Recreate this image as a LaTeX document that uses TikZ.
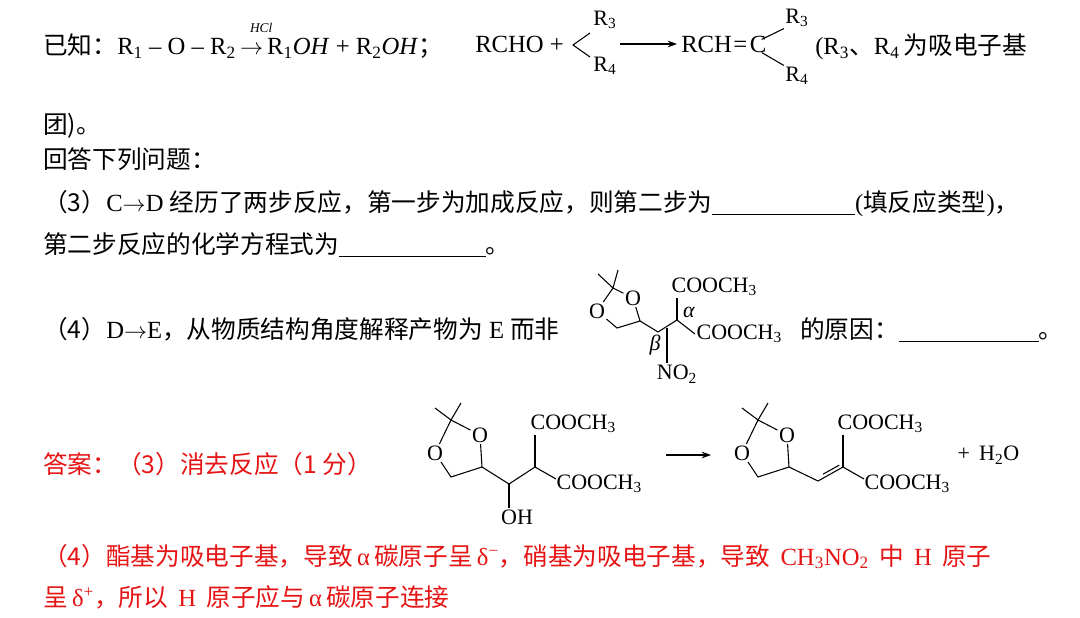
\documentclass[tikz,border=0pt]{standalone}
\usepackage{fontspec}
\usetikzlibrary{arrows.meta,calc}
\setmainfont{Liberation Serif}
\newfontfamily\cjk{Noto Sans CJK SC}
\newcommand{\C}[1]{{\cjk #1}}
\newcommand{\s}[1]{\textsubscript{#1}}
\newcommand{\blank}[1]{\rule[-3pt]{#1}{0.6pt}}
\newcommand{\ra}{\ensuremath{\rightarrow}}
\definecolor{ansred}{RGB}{230,20,20}
\begin{document}
\begin{tikzpicture}[x=0.75pt,y=-0.75pt,
  txt/.style={anchor=base west,inner sep=0pt,font=\fontsize{18.5}{22}\selectfont},
  chem/.style={inner sep=1pt,font=\fontsize{16.5}{19}\selectfont},
  bond/.style={line width=0.8pt},
  ar/.style={-{Stealth[length=7pt,width=5pt]},line width=0.8pt}]
\useasboundingbox[fill=white] (0,0) rectangle (1080,617);
% line 1
\node[txt] (l1a) at (43,55) {\C{已知：}R\s{1} – O – R\s{2}\,\rlap{\raisebox{17pt}{\fontsize{10}{10}\selectfont\itshape\ \ \ HCl}}\ra\,R\s{1}\textit{OH} + R\s{2}\textit{OH}\C{；}};
\node[txt] (l1b) at (475,53) {RCHO +};
\coordinate (bt) at (590,33); \coordinate (bm) at (573,45); \coordinate (bb) at (590,57);
\draw[bond] (bt) -- (bm) -- (bb);
\node[chem] (r3a) at (605,20) {R\s{3}};
\node[chem] (r4a) at (605,66) {R\s{4}};
\coordinate (a1s) at (620,44); \coordinate (a1e) at (677,44);
\draw[ar] (a1s) -- (a1e);
\node[txt] (l1c) at (681,53) {RCH\kern1pt=\kern2ptC};
\coordinate (cu) at ($(l1c.north east)+(-5,3)$); \coordinate (cd) at ($(l1c.south east)+(-5,-1)$);
\node[chem] (r3b) at (797,18) {R\s{3}};
\node[chem] (r4b) at (797,76) {R\s{4}};
\draw[bond] (cu) -- (r3b.south west);
\draw[bond] (cd) -- (r4b.north west);
\node[txt] (l1d) at (815,55) {(R\s{3}\C{、}R\s{4}\,\C{为吸电子基}};
\node[txt] (l2) at (43,133) {\C{团)。}};
\node[txt] (l3) at (43,168) {\C{回答下列问题：}};
\node[txt] (l4) at (43,211) {\C{（3）}C\ra D \C{经历了两步反应，第一步为加成反应，则第二步为}\blank{107pt}(\C{填反应类型})\C{，}};
\node[txt] (l5) at (43,253) {\C{第二步反应的化学方程式为}\blank{110pt}\C{。}};
\node[txt] (l6) at (43,338) {\C{（4）}D\ra E\C{，从物质结构角度解释产物为} E \C{而非}};
\node[txt] (l6b) at (800,338) {\C{的原因：}\blank{105pt}\C{。}};
% structure in question
\coordinate (qm1) at (598,274); \coordinate (qm2) at (618,270); \coordinate (qc2) at (613,288);
\node[chem] (qor) at (633,298) {O};
\node[chem] (qol) at (597,311) {O};
\coordinate (qc4) at (640,321); \coordinate (qch2) at (617,328);
\coordinate (qb) at (658,332); \coordinate (qa) at (677,320);
\draw[bond] (qm1) -- (qc2) -- (qm2);
\draw[bond] (qc2) -- (qor) -- (qc4) -- (qch2) -- (qol) -- (qc2);
\draw[bond] (qc4) -- (qb) -- (qa);
\node[chem,anchor=west] (qe1) at (670,287) {COOCH\s{3}};
\node[chem,anchor=west] (qe2) at (695,334) {COOCH\s{3}};
\draw[bond] (qa) -- (qa|-qe1.south);
\draw[bond] (qa) -- (qe2.west);
\coordinate (qn) at (667,328);
\node[chem] (qno) at (677,374) {NO\s{2}};
\draw[bond] (qn) -- (qn|-qno.north);
\node[chem] (alp) at (689,312) {\textit{α}};
\node[chem] (bet) at (655,345) {\textit{β}};
% answer
\node[txt,text=ansred] (ans) at (43,473) {\C{答案：（3）消去反应（1 分）}};
% left structure
\coordinate (m1) at (435,408); \coordinate (m2) at (461,403); \coordinate (c2) at (451,420);
\node[chem] (or) at (480,435) {O};
\node[chem] (ol) at (435,453) {O};
\coordinate (c4) at (482,467); \coordinate (ch2) at (451,477);
\coordinate (coh) at (509,484); \coordinate (ch) at (535,467); \coordinate (ce) at (556,479);
\draw[bond] (m1) -- (c2) -- (m2);
\draw[bond] (c2) -- (or) -- (c4) -- (ch2) -- (ol) -- (c2);
\draw[bond] (c4) -- (coh) -- (ch) -- (ce);
\node[chem] (oh) at (517,517) {OH};
\draw[bond] (coh) -- (coh|-oh.north);
\node[chem,anchor=west] (e1) at (529,424) {COOCH\s{3}};
\node[chem,anchor=west] (e2) at (555,484) {COOCH\s{3}};
\draw[bond] (ch) -- (ch|-e1.south);
\coordinate (a2s) at (666,455); \coordinate (a2e) at (711,455);
\draw[ar] (a2s) -- (a2e);
% right structure
\coordinate (rm1) at (742,408); \coordinate (rm2) at (768,403); \coordinate (rc2) at (758,420);
\node[chem] (ror) at (787,435) {O};
\node[chem] (rol) at (742,453) {O};
\coordinate (rc4) at (789,467); \coordinate (rch2) at (758,477);
\coordinate (rcv) at (818,481); \coordinate (rc) at (843,467); \coordinate (rce) at (864,479);
\draw[bond] (rm1) -- (rc2) -- (rm2);
\draw[bond] (rc2) -- (ror) -- (rc4) -- (rch2) -- (rol) -- (rc2);
\draw[bond] (rc4) -- (rcv) -- (rc) -- (rce);
\draw[bond] ($(rcv)!0.2!(rc)+(0,-4)$) -- ($(rcv)!0.85!(rc)+(0,-4)$);
\node[chem,anchor=west] (re1) at (836,424) {COOCH\s{3}};
\node[chem,anchor=west] (re2) at (863,484) {COOCH\s{3}};
\draw[bond] (rc) -- (rc|-re1.south);
\node[chem,anchor=west] (h2o) at (956,455) {+ \,H\s{2}O};
% answer (4)
\node[txt,text=ansred] (a4) at (43,565) {\C{（4）酯基为吸电子基，导致}\,α\,\C{碳原子呈}\,δ\textsuperscript{−}\C{，硝基为吸电子基，导致}\, CH\s{3}NO\s{2}\, \C{中}\, H \,\C{原子}};
\node[txt,text=ansred] (a5) at (43,606) {\C{呈}\,δ\textsuperscript{+}\C{，所以}\, H \,\C{原子应与}\,α\,\C{碳原子连接}};
\end{tikzpicture}
\end{document}
